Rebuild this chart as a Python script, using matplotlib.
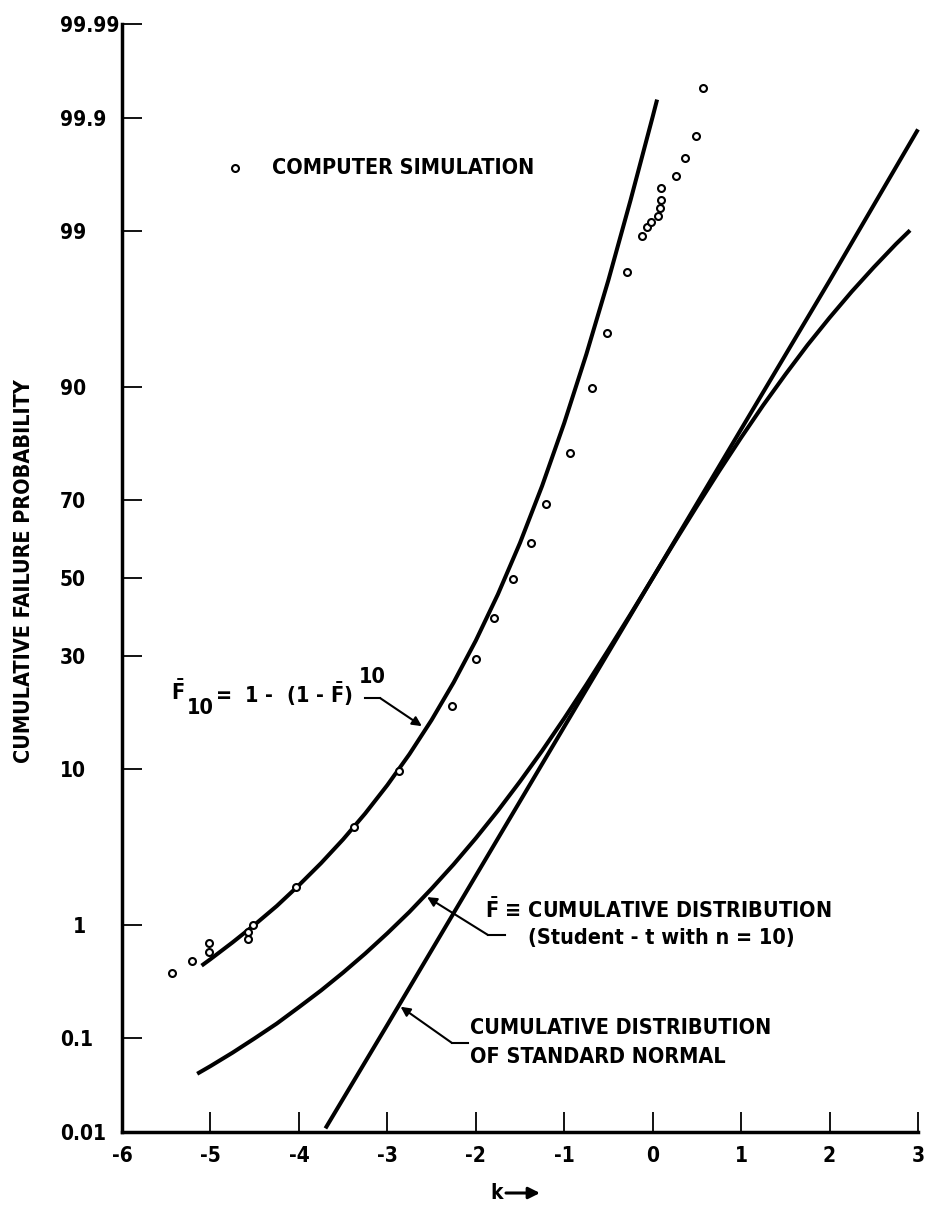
import math
import numpy as np
import matplotlib
matplotlib.use("Agg")
import matplotlib.pyplot as plt
from matplotlib import font_manager as fm
from matplotlib.lines import Line2D
from matplotlib.ticker import FixedLocator, FixedFormatter, NullLocator

# ---------------------------------------------------------------- data
# computer-simulated order statistics (k, cumulative failure probability in %)
sim_k = [-5.43, -5.21, -5.02, -5.02, -4.57, -4.57, -4.52, -4.03, -3.38, -2.87,
         -2.27, -2.00, -1.79, -1.58, -1.37, -1.21, -0.94, -0.69, -0.52, -0.29,
         -0.12, -0.06, -0.02, 0.06, 0.08, 0.09, 0.09, 0.26, 0.36, 0.49, 0.57]
sim_p = [0.40, 0.51, 0.71, 0.60, 0.77, 0.88, 1.0, 1.9, 4.7, 9.8,
         19.5, 29.4, 39.4, 49.7, 59.4, 69.1, 80.0, 89.9, 95.0, 98.0,
         98.92, 99.07, 99.16, 99.25, 99.35, 99.44, 99.56, 99.65, 99.76, 99.85, 99.95]

# cumulative distribution of the standard normal
normal_k = [-3.70, -3.0, -2.0, -1.0, 0.0, 1.0, 2.0, 3.0]
normal_p = [0.011, 0.135, 2.28, 15.9, 50.0, 84.1, 97.7, 99.87]

# Student-t cumulative distribution, n = 10
student_k = [-5.15, -5.0, -4.75, -4.5, -4.25, -4.0, -3.75, -3.5, -3.25, -3.0,
             -2.75, -2.5, -2.25, -2.0, -1.75, -1.5, -1.25, -1.0, -0.75, -0.5,
             -0.25, 0.0, 0.25, 0.5, 0.75, 1.0, 1.25, 1.5, 1.75, 2.0,
             2.25, 2.5, 2.75, 2.91]
student_p = [0.0437, 0.0525, 0.072, 0.100, 0.139, 0.198, 0.281, 0.404, 0.585, 0.854,
             1.25, 1.85, 2.73, 4.03, 5.91, 8.60, 12.3, 17.3, 23.7, 31.5,
             40.4, 50.0, 59.6, 68.5, 76.3, 82.7, 87.7, 91.4, 94.1, 95.97,
             97.27, 98.15, 98.75, 99.02]

# smallest of ten: F10 = 1 - (1 - F)^10
f10_k = [-5.10, -5.0, -4.75, -4.5, -4.25, -4.0, -3.75, -3.5, -3.25, -3.0,
         -2.75, -2.5, -2.25, -2.0, -1.75, -1.5, -1.25, -1.0, -0.75, -0.5,
         -0.25, 0.0, 0.05]
f10_p = [0.463, 0.525, 0.722, 0.997, 1.384, 1.958, 2.777, 3.966, 5.70, 8.22,
         11.85, 17.01, 24.17, 33.70, 45.63, 59.31, 73.18, 85.09, 93.34, 97.73,
         99.44, 99.902, 99.934]

y_ticks = [0.01, 0.1, 1, 10, 30, 50, 70, 90, 99, 99.9, 99.99]
y_tick_labels = ["0.01", "0.1", "\u20071", "10", "30", "50", "70", "90", "99", "99.9", "99.99"]
x_ticks = [-6, -5, -4, -3, -2, -1, 0, 1, 2, 3]
x_tick_labels = ["-6", "-5", "-4", "-3", "-2", "-1", "0", "1", "2", "3"]

# ---------------------------------------------------------------- fonts
_names = {f.name for f in fm.fontManager.ttflist}
if "Liberation Sans Narrow" in _names:
    FAMILY = ["Liberation Sans Narrow", "DejaVu Sans"]
    STRETCH = "normal"
else:
    FAMILY = ["DejaVu Sans"]
    STRETCH = "condensed"
plt.rcParams["font.family"] = FAMILY
plt.rcParams["font.weight"] = "bold"
plt.rcParams["font.stretch"] = STRETCH
plt.rcParams["axes.labelweight"] = "bold"
plt.rcParams["axes.unicode_minus"] = False
plt.rcParams["mathtext.fontset"] = "dejavusans"

FBAR = r"$\bar{\mathbf{F}}$"

# ---------------------------------------------------------------- probability scale
_erf = np.vectorize(math.erf, otypes=[float])

_A = [-3.969683028665376e+01, 2.209460984245205e+02, -2.759285104469687e+02,
      1.383577518672690e+02, -3.066479806614716e+01, 2.506628277459239e+00]
_B = [-5.447609879822406e+01, 1.615858368580409e+02, -1.556989798598866e+02,
      6.680131188771972e+01, -1.328068155288572e+01]
_C = [-7.784894002430293e-03, -3.223964580411365e-01, -2.400758277161838e+00,
      -2.549732539343734e+00, 4.374664141464968e+00, 2.938163982698783e+00]
_D = [7.784695709041462e-03, 3.224671290700398e-01, 2.445134137142996e+00,
      3.754408661907416e+00]


def _cdf(z):
    z = np.asarray(z, dtype=float)
    return 0.5 * (1.0 + _erf(z / math.sqrt(2.0)))


def _ppf(p):
    p = np.clip(np.asarray(p, dtype=float), 1e-12, 1 - 1e-12)
    plow = 0.02425
    out = np.empty_like(p)
    lo = p < plow
    hi = p > 1 - plow
    mid = ~(lo | hi)
    q = np.sqrt(-2 * np.log(p[lo]))
    out[lo] = (((((_C[0]*q+_C[1])*q+_C[2])*q+_C[3])*q+_C[4])*q+_C[5]) / \
              ((((_D[0]*q+_D[1])*q+_D[2])*q+_D[3])*q+1)
    q = p[mid] - 0.5
    r = q * q
    out[mid] = (((((_A[0]*r+_A[1])*r+_A[2])*r+_A[3])*r+_A[4])*r+_A[5])*q / \
               (((((_B[0]*r+_B[1])*r+_B[2])*r+_B[3])*r+_B[4])*r+1)
    q = np.sqrt(-2 * np.log(1 - p[hi]))
    out[hi] = -(((((_C[0]*q+_C[1])*q+_C[2])*q+_C[3])*q+_C[4])*q+_C[5]) / \
               ((((_D[0]*q+_D[1])*q+_D[2])*q+_D[3])*q+1)
    return out


def pct_to_probit(v):
    return _ppf(np.asarray(v, dtype=float) / 100.0)


def probit_to_pct(z):
    return 100.0 * _cdf(z)


# ---------------------------------------------------------------- figure
W, H = 925, 1205
fig = plt.figure(figsize=(W / 100, H / 100), dpi=100)
fig.patch.set_facecolor("white")


def fxy(x, y):
    return (x / W, 1 - y / H)


ax = fig.add_axes([122 / W, 1 - 1132 / H, 796 / W, 1108 / H])
ax.set_yscale("function", functions=(pct_to_probit, probit_to_pct))
ax.set_xlim(-6, 3)
ax.set_ylim(0.01, 99.99)

LW = 2.9
ax.plot(normal_k, normal_p, color="black", lw=LW, solid_capstyle="butt", clip_on=False)
ax.plot(student_k, student_p, color="black", lw=LW, solid_capstyle="butt",
        solid_joinstyle="round")
ax.plot(f10_k, f10_p, color="black", lw=LW, solid_capstyle="butt",
        solid_joinstyle="round")
ax.plot(sim_k, sim_p, linestyle="none", marker="o", markersize=5.0,
        markerfacecolor="white", markeredgecolor="black", markeredgewidth=1.5)

for side in ("top", "right"):
    ax.spines[side].set_visible(False)
for side in ("left", "bottom"):
    ax.spines[side].set_linewidth(2.5)

ax.xaxis.set_major_locator(FixedLocator(x_ticks))
ax.xaxis.set_major_formatter(FixedFormatter(x_tick_labels))
ax.yaxis.set_major_locator(FixedLocator(y_ticks))
ax.yaxis.set_major_formatter(FixedFormatter(y_tick_labels))
ax.xaxis.set_minor_locator(NullLocator())
ax.yaxis.set_minor_locator(NullLocator())

ax.tick_params(axis="both", direction="in", length=14.5, width=1.3, color="black")
ax.tick_params(axis="x", pad=10, labelsize=15)
ax.tick_params(axis="y", pad=44.6, labelsize=15)
for lab in ax.get_yticklabels():
    lab.set_horizontalalignment("left")

ax.set_ylabel("CUMULATIVE FAILURE PROBABILITY", fontsize=15.5)
ax.yaxis.label.set_verticalalignment("center")
ax.yaxis.set_label_coords((24 - 122) / 796, (1132 - 571) / 1108)

# axis name with arrow
fig.text(*fxy(497, 1193), "k", fontsize=15, ha="center", va="center")
ax.annotate("", xy=fxy(540, 1193), xycoords="figure fraction",
            xytext=fxy(506, 1193), textcoords="figure fraction",
            arrowprops=dict(arrowstyle="-|>", color="black", lw=2.2, mutation_scale=17,
                            shrinkA=0, shrinkB=0))

# legend entry
fig.add_artist(Line2D([235 / W], [1 - 168 / H], transform=fig.transFigure,
                      marker="o", markersize=5.0, markerfacecolor="white",
                      markeredgecolor="black", markeredgewidth=1.5, linestyle="none"))
fig.text(*fxy(272, 168), "COMPUTER SIMULATION", fontsize=15.5, ha="left", va="center")

TXT = 15.5
ALW = 1.5


def leader(tail, bend, tip_k, tip_p):
    fig.add_artist(Line2D([tail[0] / W, bend[0] / W], [1 - tail[1] / H, 1 - bend[1] / H],
                          transform=fig.transFigure, color="black", lw=ALW))
    ax.annotate("", xy=(tip_k, tip_p), xycoords="data",
                xytext=fxy(*bend), textcoords="figure fraction",
                arrowprops=dict(arrowstyle="-|>", color="black", lw=ALW,
                                mutation_scale=14, shrinkA=0, shrinkB=0))


# F10 formula
fig.text(*fxy(171, 692), FBAR, fontsize=TXT, ha="left", va="center")
fig.text(*fxy(187, 708), "10", fontsize=TXT, ha="left", va="center")
fig.text(*fxy(215, 694), "=  1 -  (1 - " + FBAR + ")", fontsize=TXT,
         ha="left", va="center")
fig.text(*fxy(359, 677), "10", fontsize=TXT, ha="left", va="center")
leader((365, 698), (380, 698), -2.61, 16.0)

# Student-t label
fig.text(*fxy(485, 910), FBAR + " \u2261 CUMULATIVE DISTRIBUTION", fontsize=TXT,
         ha="left", va="center")
fig.text(*fxy(528, 938), "(Student - t with n = 10)", fontsize=TXT,
         ha="left", va="center")
leader((505, 935), (488, 935), -2.55, 1.61)

# standard normal label
fig.text(*fxy(470, 1028), "CUMULATIVE DISTRIBUTION", fontsize=TXT, ha="left", va="center")
fig.text(*fxy(470, 1057), "OF STANDARD NORMAL", fontsize=TXT, ha="left", va="center")
leader((468, 1043), (452, 1043), -2.85, 0.20)

fig.savefig("out.png", dpi=100, facecolor="white")
